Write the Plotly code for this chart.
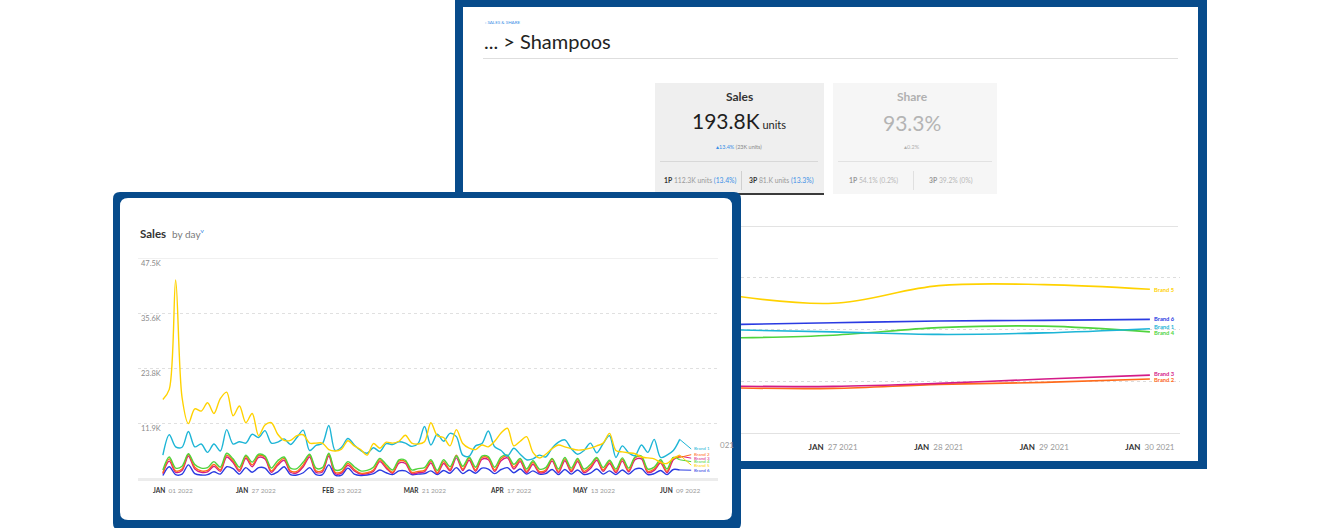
import pandas as pd
import plotly.graph_objects as go

W, H = 1320, 528
NAVY = "#074b8b"
FONT = "Lato"


def px(x):
    return x / W


def py(y):
    return 1 - y / H


# ---------------- data: front chart (sales by day, read every 2 days) ----------------
front_start = "2022-01-01"
front_step = "2D"
front_brand1 = [5.0, 9.4, 6.8, 6.7, 10.1, 6.8, 7.4, 5.6, 7.4, 5.9, 10.5, 7.4, 7.9, 7.6, 9.5,
                8.8, 10.3, 7.6, 7.8, 8.5, 7.3, 8.8, 10.4, 6.0, 7.1, 7.5, 11.4, 6.0, 6.7, 8.6,
                7.2, 6.0, 5.4, 6.6, 5.8, 7.5, 7.3, 7.9, 7.6, 6.9, 7.5, 11.2, 7.2, 9.5, 8.0,
                9.7, 9.0, 5.0, 4.8, 7.0, 7.5, 10.2, 6.8, 6.0, 4.8, 6.5, 5.2, 4.0, 4.2, 5.0,
                4.6, 6.5, 7.8, 8.3, 6.4, 5.2, 6.0, 7.6, 5.5, 7.5, 9.2, 4.5, 7.0, 5.5, 4.9,
                7.2, 5.6, 8.4, 4.5, 5.0, 6.0, 8.4]
front_brand2 = [1.2, 4.2, 1.6, 2.0, 5.2, 2.4, 1.6, 1.7, 3.0, 1.8, 5.0, 3.8, 1.8, 4.7, 2.9,
                4.9, 4.6, 1.6, 3.2, 4.3, 1.6, 1.5, 2.9, 5.0, 1.6, 1.7, 5.2, 1.3, 1.4, 3.2,
                1.9, 1.1, 1.2, 1.8, 4.0, 2.5, 1.3, 3.7, 3.6, 1.3, 1.5, 1.7, 3.7, 1.2, 3.6,
                1.9, 5.0, 2.0, 4.3, 1.8, 4.5, 4.4, 1.8, 4.2, 4.8, 2.4, 4.0, 1.5, 3.4, 1.5,
                1.8, 4.1, 1.5, 4.2, 1.7, 4.0, 1.5, 2.5, 4.3, 1.8, 3.6, 1.5, 4.1, 1.7, 4.4,
                4.6, 1.5, 2.0, 3.7, 1.5, 4.4, 4.5]
front_brand3 = [1.0, 3.7, 1.3, 1.7, 4.8, 2.0, 1.3, 1.4, 2.6, 1.5, 4.6, 3.4, 1.5, 4.3, 2.5,
                4.5, 4.2, 1.3, 2.8, 3.9, 1.3, 1.2, 2.5, 4.6, 1.3, 1.4, 4.8, 1.0, 1.1, 2.8,
                1.6, 0.9, 1.0, 1.5, 3.6, 2.2, 1.1, 3.3, 3.2, 1.0, 1.2, 1.4, 3.3, 1.0, 3.2,
                1.6, 4.4, 1.7, 3.9, 1.5, 4.1, 4.0, 1.5, 3.8, 4.4, 2.0, 3.6, 1.2, 3.0, 1.2,
                1.5, 3.7, 1.2, 3.8, 1.4, 3.6, 1.2, 2.1, 3.9, 1.5, 3.2, 1.2, 3.7, 1.4, 4.0,
                4.2, 1.2, 1.7, 3.3, 1.2, 4.0, 4.8]
front_brand4 = [1.8, 4.6, 2.2, 2.6, 5.3, 3.0, 2.2, 2.3, 3.6, 2.4, 5.4, 4.2, 2.4, 5.0, 3.5,
                5.2, 4.8, 2.2, 3.8, 4.6, 2.2, 2.1, 3.5, 5.2, 2.2, 2.3, 5.4, 1.8, 2.0, 3.6,
                2.5, 1.6, 1.7, 2.4, 4.3, 3.0, 1.8, 4.0, 3.9, 1.8, 2.1, 2.3, 4.0, 1.7, 4.0,
                2.5, 4.8, 2.6, 4.6, 2.4, 4.8, 4.7, 2.4, 4.6, 5.0, 3.0, 4.3, 2.0, 3.8, 2.0,
                2.3, 4.3, 2.0, 4.5, 2.2, 4.3, 2.0, 3.0, 4.5, 2.3, 3.9, 2.0, 4.4, 2.2, 4.6,
                4.8, 2.0, 2.4, 4.0, 2.0, 4.5, 4.0]
front_brand5 = [17.0, 19.2, 42.8, 17.5, 11.8, 15.0, 14.5, 16.3, 14.0, 17.2, 18.6, 13.5, 15.6,
                12.0, 14.0, 9.2, 11.5, 12.0, 9.5, 8.2, 8.2, 9.2, 9.4, 7.6, 7.6, 7.6, 6.2, 5.9,
                6.3, 8.1, 7.0, 6.2, 5.0, 7.5, 6.5, 7.8, 7.6, 8.0, 9.3, 7.6, 7.4, 7.9, 12.0,
                9.2, 8.8, 7.0, 10.5, 7.5, 6.5, 6.2, 7.2, 6.8, 8.0, 9.8, 10.8, 7.0, 8.0, 9.0,
                5.6, 4.4, 5.2, 6.4, 7.2, 6.8, 6.4, 6.1, 6.2, 6.5, 7.0, 7.6, 9.7, 6.0, 5.7,
                5.5, 5.3, 4.6, 4.4, 4.2, 3.4, 3.2, 4.3, 5.0]
front_brand6 = [0.6, 2.5, 0.8, 0.9, 2.9, 1.0, 0.7, 0.8, 1.4, 0.9, 2.5, 2.1, 0.9, 2.3, 1.3,
                2.3, 2.2, 0.8, 1.4, 2.5, 0.8, 0.7, 1.2, 2.3, 0.8, 0.8, 2.9, 0.7, 0.7, 2.2,
                0.9, 0.6, 0.7, 1.0, 1.8, 1.2, 0.8, 1.6, 1.6, 0.8, 0.9, 1.0, 1.6, 0.8, 1.7,
                1.1, 2.3, 1.0, 1.8, 1.1, 2.2, 2.0, 1.0, 1.9, 2.3, 1.2, 2.0, 0.9, 1.6, 0.9,
                1.0, 1.9, 0.8, 1.9, 0.9, 1.8, 0.8, 1.1, 2.0, 0.9, 1.6, 0.8, 1.8, 0.9, 2.0,
                2.1, 0.8, 1.0, 1.7, 0.8, 1.9, 1.8]
front_label_y = [6.33, 5.1, 4.35, 3.6, 2.85, 1.75]
front_tick_dates = ["2022-01-01", "2022-01-27", "2022-02-23", "2022-03-21",
                    "2022-04-17", "2022-05-13", "2022-06-09"]
front_tick_month = ["JAN", "JAN", "FEB", "MAR", "APR", "MAY", "JUN"]
front_tick_rest = ["01 2022", "27 2022", "23 2022", "21 2022", "17 2022", "13 2022", "09 2022"]
front_y_ticks = [11.875, 23.75, 35.625, 47.5]
front_y_text = ["11.9K", "23.8K", "35.6K", "47.5K"]

# ---------------- data: back chart (Shampoos, Jan 26-30 2021) ----------------
back_dates = ["2021-01-26", "2021-01-27", "2021-01-28", "2021-01-29", "2021-01-30"]
back_brand1 = [19.9, 19.5, 19.0, 19.3, 20.1]
back_brand2 = [8.7, 8.6, 9.37, 9.75, 10.4]
back_brand3 = [9.04, 8.98, 9.56, 10.4, 11.15]
back_brand4 = [18.3, 18.85, 20.3, 20.6, 19.5]
back_brand5 = [26.6, 25.0, 28.4, 28.6, 27.7]
back_brand6 = [20.9, 21.25, 21.6, 21.7, 21.9]
back_label_y = [20.5, 10.4, 11.5, 19.4, 27.7, 22.1]
back_tick_dates = ["2021-01-27", "2021-01-28", "2021-01-29", "2021-01-30"]
back_tick_rest = ["27 2021", "28 2021", "29 2021", "30 2021"]

brands = ["Brand 1", "Brand 2", "Brand 3", "Brand 4", "Brand 5", "Brand 6"]
colors = ["#1db5d6", "#ff6a1a", "#d41b88", "#4fd43c", "#ffd200", "#2a3be2"]

front_series = [front_brand1, front_brand2, front_brand3, front_brand4, front_brand5, front_brand6]
back_series = [back_brand1, back_brand2, back_brand3, back_brand4, back_brand5, back_brand6]

fig = go.Figure()

# ---------------- back chart traces (x / y) ----------------
back_x = pd.to_datetime(back_dates)
for i in [1, 2, 3, 0, 5, 4]:
    fig.add_trace(go.Scatter(x=back_x, y=back_series[i], mode="lines",
                             line=dict(color=colors[i], width=1.6, shape="spline", smoothing=1.0),
                             xaxis="x", yaxis="y", showlegend=False, hoverinfo="skip"))

# ---------------- front chart traces (x2 / y2) ----------------
front_x = pd.date_range(front_start, periods=len(front_brand1), freq=front_step)
label_x = front_x[-1] + pd.Timedelta(days=3.6)
for i in [5, 2, 1, 3, 0, 4]:
    fig.add_trace(go.Scatter(x=front_x, y=front_series[i], mode="lines",
                             line=dict(color=colors[i], width=1.4, shape="spline", smoothing=0.9),
                             xaxis="x2", yaxis="y2", showlegend=False, hoverinfo="skip"))
    fig.add_trace(go.Scatter(x=[front_x[-1], label_x], y=[front_series[i][-1], front_label_y[i]],
                             mode="lines", line=dict(color=colors[i], width=1),
                             xaxis="x2", yaxis="y2", showlegend=False, hoverinfo="skip"))

shapes = []


def rect(x0, y0, x1, y1, fill, line=None, lw=0):
    shapes.append(dict(type="rect", xref="paper", yref="paper", x0=px(x0), x1=px(x1),
                       y0=py(y1), y1=py(y0), fillcolor=fill,
                       line=dict(color=line or fill, width=lw), layer="below"))


def rrect(x0, y0, x1, y1, r, fill):
    p = (f"M {px(x0 + r)},{py(y0)} L {px(x1 - r)},{py(y0)} "
         f"Q {px(x1)},{py(y0)} {px(x1)},{py(y0 + r)} L {px(x1)},{py(y1 - r)} "
         f"Q {px(x1)},{py(y1)} {px(x1 - r)},{py(y1)} L {px(x0 + r)},{py(y1)} "
         f"Q {px(x0)},{py(y1)} {px(x0)},{py(y1 - r)} L {px(x0)},{py(y0 + r)} "
         f"Q {px(x0)},{py(y0)} {px(x0 + r)},{py(y0)} Z")
    shapes.append(dict(type="path", xref="paper", yref="paper", path=p, fillcolor=fill,
                       line=dict(width=0), layer="below"))


def hline(x0, x1, y, color, width=1, dash="solid"):
    shapes.append(dict(type="line", xref="paper", yref="paper", x0=px(x0), x1=px(x1),
                       y0=py(y), y1=py(y), line=dict(color=color, width=width, dash=dash),
                       layer="below"))


def vline(x, y0, y1, color, width=1):
    shapes.append(dict(type="line", xref="paper", yref="paper", x0=px(x), x1=px(x),
                       y0=py(y0), y1=py(y1), line=dict(color=color, width=width), layer="below"))


# back panel
rect(455, -6, 1207, 469, NAVY)
rect(463, 7, 1198, 461, "#ffffff")
hline(483, 1178, 58.5, "#dedede")
# KPI cards
rect(655, 83, 824, 194, "#efefef")
hline(655, 824, 194, "#3a3a3a", 2)
rect(833, 83, 997, 194, "#f6f6f6")
hline(660, 818, 161.5, "#d8d8d8")
hline(838, 992, 161.5, "#e2e2e2")
vline(741.5, 171, 190, "#d0d0d0")
vline(913.5, 171, 190, "#e0e0e0")
hline(741, 1178, 226.5, "#e3e3e3")

# front panel
rrect(113, 192, 741, 530, 7, NAVY)
rrect(120, 198, 732, 520, 8, "#ffffff")

annotations = []


def ann(x, y, text, size, color, xanchor="left", yanchor="middle", xref="paper", yref="paper"):
    annotations.append(dict(x=px(x) if xref == "paper" else x, y=py(y) if yref == "paper" else y,
                            xref=xref, yref=yref, text=text, showarrow=False,
                            xanchor=xanchor, yanchor=yanchor,
                            font=dict(family=FONT, size=size, color=color)))


BLUE_TXT = "#3d8fe6"
# back header
ann(483, 22.5, "‹ SALES &amp; SHARE", 4.5, BLUE_TXT)
ann(482, 41, "...\u00a0>\u00a0Shampoos", 20, "#222222")
# card 1
ann(739.5, 96, "<b>Sales</b>", 12, "#333333", "center")
ann(739, 121, "193.8K<span style='font-size:11px'> units</span>", 21, "#1e1e1e", "center")
ann(739, 146.5, f"<span style='color:{BLUE_TXT}'>▴13.4%</span> (23K units)", 5.5, "#888888", "center")
ann(662, 180.5, f"<b><span style='color:#333'>1P</span></b> 112.3K units <span style='color:{BLUE_TXT}'>(13.4%)</span>",
    6.8, "#999999")
ann(747, 180.5, f"<b><span style='color:#333'>3P</span></b> 81.K units <span style='color:{BLUE_TXT}'>(13.3%)</span>",
    6.8, "#999999")
# card 2
ann(912, 96, "<b>Share</b>", 12, "#b0b0b0", "center")
ann(912, 122, "93.3%", 21, "#b4b4b4", "center")
ann(912, 147, "▴0.2%", 5.5, "#b0b0b0", "center")
ann(847, 180.5, "<b><span style='color:#999'>1P</span></b> 54.1% (0.2%)", 6.8, "#b8b8b8")
ann(927, 180.5, "<b><span style='color:#999'>3P</span></b> 39.2% (0%)", 6.8, "#b8b8b8")
# partially hidden back x label
ann(736, 445, "021", 8, "#9a9a9a", "right")
# back line labels
back_label_x = pd.Timestamp(back_dates[-1])
for i, b in enumerate(brands):
    annotations.append(dict(x=back_label_x, y=back_label_y[i], xref="x", yref="y",
                            text=f"<b>{b}</b>", showarrow=False, xanchor="left", xshift=2,
                            font=dict(family=FONT, size=5.8, color=colors[i])))
# front header
ann(138, 234, "<b>Sales</b>", 11.5, "#333333")
ann(170, 234.5, "by day", 10, "#7a7a7a")
ann(198, 233.5, "˅", 9, BLUE_TXT)
# front line labels
for i, b in enumerate(brands):
    annotations.append(dict(x=label_x, y=front_label_y[i], xref="x2", yref="y2",
                            text=b, showarrow=False, xanchor="left", xshift=1,
                            font=dict(family=FONT, size=4.5, color=colors[i])))

# top solid line of front chart
shapes.append(dict(type="line", xref="x2 domain", yref="y2", x0=0, x1=1,
                   y0=front_y_ticks[-1], y1=front_y_ticks[-1],
                   line=dict(color="#e6e6e6", width=1)))

front_ticktext = [f"<span style='color:#333'><b>{m}</b></span>\u00a0\u00a0<span style='color:#9a9a9a'>{r}</span>"
                  for m, r in zip(front_tick_month, front_tick_rest)]
back_ticktext = [f"<span style='color:#333'><b>JAN</b></span>\u00a0\u00a0<span style='color:#9a9a9a'>{r}</span>"
                 for r in back_tick_rest]

t0 = pd.Timestamp(front_start)
b0 = pd.Timestamp(back_dates[0])

fig.update_layout(
    width=W, height=H, autosize=False,
    margin=dict(l=0, r=0, t=0, b=0),
    paper_bgcolor="#ffffff", plot_bgcolor="rgba(0,0,0,0)",
    font=dict(family=FONT),
    shapes=shapes, annotations=annotations,
    xaxis=dict(domain=[px(741), px(1180)], anchor="y", type="date",
               range=[b0 + pd.Timedelta(days=0.128), b0 + pd.Timedelta(days=4.285)],
               tickvals=pd.to_datetime(back_tick_dates), ticktext=back_ticktext,
               tickfont=dict(size=8, family=FONT), ticks="", ticklabelstandoff=6,
               showgrid=False, showline=True, linecolor="#e2e2e2", linewidth=1, zeroline=False),
    yaxis=dict(domain=[py(433), py(226.5)], anchor="x", range=[0, 39.8],
               tickvals=[10, 20, 30], showticklabels=False, showgrid=True,
               gridcolor="#dcdcdc", griddash="dot", gridwidth=1, zeroline=False, showline=False),
    xaxis2=dict(domain=[px(138), px(718)], anchor="y2", type="date",
                range=[t0 - pd.Timedelta(days=7.8), t0 + pd.Timedelta(days=174)],
                tickvals=pd.to_datetime(front_tick_dates), ticktext=front_ticktext,
                tickfont=dict(size=6.5, family=FONT), ticks="", ticklabelstandoff=4,
                ticklabelshift=10,
                showgrid=False, showline=True, linecolor="#ececec", linewidth=3, zeroline=False),
    yaxis2=dict(domain=[py(478.3), py(258.3)], anchor="x2", range=[0, 47.5],
                tickvals=front_y_ticks, ticktext=front_y_text, ticks="",
                ticklabelposition="inside bottom",
                tickfont=dict(size=7.5, color="#8a8a8a", family=FONT),
                showgrid=True, gridcolor="#e0e0e0", griddash="dot", gridwidth=1,
                zeroline=False, showline=False),
)

fig.write_html("out.html", config={"displayModeBar": False},
               post_script="document.body.style.margin='0';")
